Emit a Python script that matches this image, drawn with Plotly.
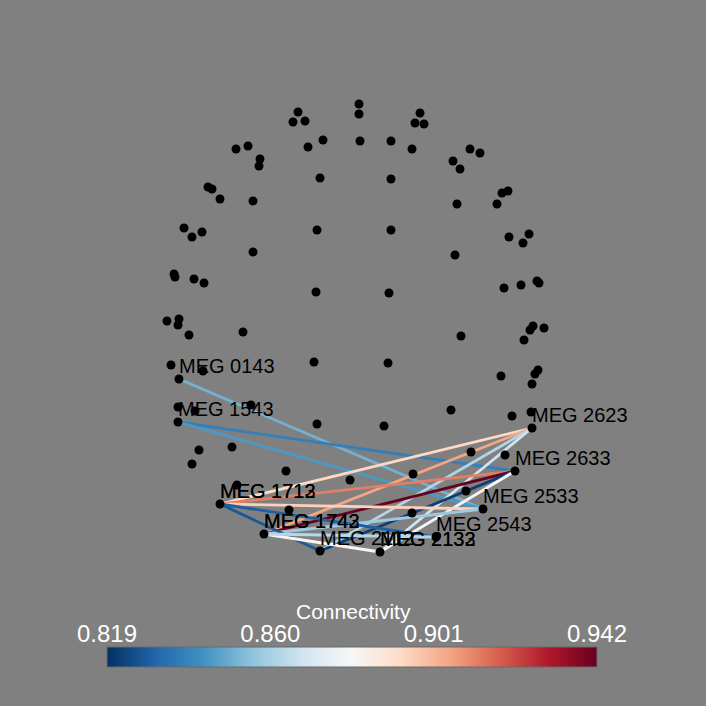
import plotly.graph_objects as go
from plotly.colors import sample_colorscale

# sensor positions (screen projection)
sensor_x = [298,293,305,359,359,420,415,424,236,248,260,259,308,323,360,391,412,
            470,480,453,460,208,212,220,253,320,391,502,508,497,457,184,192,202,
            317,391,509,529,523,253,455,174,175,194,204,316,389,504,521,537,539,
            167,179,178,189,243,461,530,533,544,524,
            171,179,203,314,388,501,538,535,532,178,178,195,251,451,512,531,532,
            317,384,199,232,192,471,505,515,286,350,413,466,237,220,483,289,412,
            264,320,380,436]
sensor_y = [112,122,121,104,114,113,123,124,149,146,159,166,147,140,141,141,149,
            149,153,161,169,187,189,199,201,178,179,193,191,204,204,228,237,232,
            230,230,237,234,243,252,255,274,277,279,283,292,293,288,285,281,283,
            321,319,325,335,332,336,330,326,328,340,
            365,379,371,362,363,376,370,374,384,407,422,411,405,410,416,412,428,
            424,426,450,447,464,452,455,471,471,480,474,491,485,504,509,510,513,
            534,551,552,537]

# labelled sensors
label_names = ["MEG 0143", "MEG 1543", "MEG 1712", "MEG 1713", "MEG 1742", "MEG 1743",
               "MEG 2112", "MEG 2132", "MEG 2133", "MEG 2623", "MEG 2633",
               "MEG 2533", "MEG 2543"]
label_x = [179, 178, 220, 220, 264, 264, 320, 380, 380, 532, 515, 483, 436]
label_y = [379, 422, 504, 504, 534, 534, 551, 552, 552, 428, 471, 509, 537]

# connections (node indices into the label lists) and strengths
con_from = [0, 1, 1, 9, 9, 9, 9, 10, 10, 10, 10, 11, 11, 3, 3, 5, 5]
con_to   = [11, 10, 11, 3, 5, 6, 7, 3, 5, 6, 7, 3, 5, 12, 6, 7, 12]
con_val  = [0.851, 0.838, 0.845, 0.893, 0.905, 0.862, 0.868, 0.912, 0.942, 0.822,
            0.880, 0.895, 0.858, 0.830, 0.828, 0.882, 0.863]

vmin, vmax = 0.819, 0.942
cbar_ticks = [0.819, 0.860, 0.901, 0.942]
cbar_ticktext = ["0.819", "0.860", "0.901", "0.942"]
cscale = "RdBu_r"

fig = go.Figure()

for a, b, v in zip(con_from, con_to, con_val):
    t = (v - vmin) / (vmax - vmin)
    col = sample_colorscale(cscale, [t])[0]
    fig.add_trace(go.Scatter(x=[label_x[a], label_x[b]], y=[label_y[a], label_y[b]],
                             mode="lines", line=dict(color=col, width=2.8),
                             hoverinfo="skip", showlegend=False))

fig.add_trace(go.Scatter(x=sensor_x, y=sensor_y, mode="markers",
                         marker=dict(color="black", size=9), showlegend=False))

fig.add_trace(go.Scatter(x=label_x, y=[v - 11 for v in label_y], mode="text",
                         text=label_names, textposition="middle right",
                         textfont=dict(family="Liberation Sans, Arial, sans-serif",
                                       size=20, color="black"),
                         showlegend=False))

# colour bar (library colorbar) + top-side tick labels from a matching axis
fig.add_trace(go.Scatter(
    x=[None], y=[None], mode="markers",
    marker=dict(color=[vmin], cmin=vmin, cmax=vmax, colorscale=cscale, showscale=True,
                colorbar=dict(orientation="h", x=352 / 706, xanchor="center",
                              y=38 / 706, yanchor="bottom", len=490 / 706,
                              lenmode="fraction", thickness=20, xpad=0, ypad=0,
                              outlinewidth=1, outlinecolor="#6a6a6a",
                              tickvals=cbar_ticks, ticks="", showticklabels=False)),
    showlegend=False))

fig.add_trace(go.Scatter(x=cbar_ticks, y=[0] * len(cbar_ticks), xaxis="x2", yaxis="y2",
                         mode="markers", marker=dict(opacity=0), hoverinfo="skip",
                         showlegend=False))

fig.add_annotation(x=353 / 706, y=1 - 625 / 706, xref="paper", yref="paper",
                   text="Connectivity", showarrow=False,
                   font=dict(family="Liberation Sans, Arial", size=21, color="white"))

fig.update_layout(width=706, height=706, autosize=False,
                  margin=dict(l=0, r=0, t=0, b=0, autoexpand=False),
                  paper_bgcolor="#808080", plot_bgcolor="rgba(0,0,0,0)",
                  xaxis=dict(range=[0, 706], visible=False),
                  yaxis=dict(range=[706, 0], visible=False),
                  xaxis2=dict(domain=[107 / 706, 597 / 706], range=[vmin, vmax],
                              anchor="y2", side="top", tickvals=cbar_ticks,
                              ticktext=cbar_ticktext, ticks="", showgrid=False,
                              zeroline=False, showline=False, automargin=False,
                              tickfont=dict(family="Liberation Sans, Arial", size=24,
                                            color="white")),
                  yaxis2=dict(domain=[38 / 706, 58 / 706], visible=False, range=[-1, 1]))

fig.write_html("out.html",
               config={"displayModeBar": False, "responsive": False},
               post_script="document.body.style.margin='0px';"
                           "document.body.style.overflow='hidden';")
